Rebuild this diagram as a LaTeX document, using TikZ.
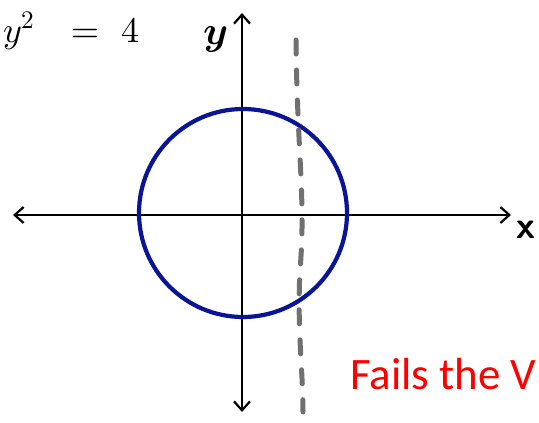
\documentclass[tikz,border=0pt]{standalone}
\usepackage{fontspec}
\usepackage{unicode-math}
\newfontfamily\calib{Carlito}
\usetikzlibrary{arrows.meta}
\begin{document}
\begin{tikzpicture}[x=1pt,y=-1pt,
  axis/.style={line width=2.2pt,-{Straight Barb[length=9pt,width=16pt,line width=2.2pt]},line cap=round},
  circ/.style={draw={rgb,255:red,10;green,20;blue,150},line width=4.2pt},
  vline/.style={draw={rgb,255:red,112;green,112;blue,112},line width=5pt,line cap=round,dash pattern=on 14pt off 16pt},
  lab/.style={inner sep=0pt},
  eqf/.style={lab,anchor=base,font=\fontsize{36}{38}\selectfont}]
\useasboundingbox (0,0) rectangle (539,423);
\clip (0,0) rectangle (539,423);
\coordinate (xl) at (13,215);
\coordinate (xr) at (511,215);
\coordinate (yt) at (242,13);
\coordinate (yb) at (242,412);
\coordinate (c) at (243,213);
\draw[axis] (c |- xl) -- (xl);
\draw[axis] (c |- xr) -- (xr);
\draw[axis] (c -| yt) -- (yt);
\draw[axis] (c -| yb) -- (yb);
\draw[circ] (c) circle[radius=104];
\coordinate (v1) at (296,40);
\coordinate (v2) at (303,412);
\draw[vline] (v1) .. controls (297,150) and (306,200) .. (300,270) .. controls (297,330) and (303,370) .. (v2);
\node[eqf,anchor=base west] (eqy) at (3,42) {$y^2$};
\node[eqf] (eqeq) at (86,42) {$=$};
\node[eqf] (eq4) at (130,42) {$4$};
\node[lab,anchor=base,font=\fontsize{40}{42}\selectfont] (ylab) at (216,44) {$\symbfit{y}$};
\node[lab,anchor=base,font=\fontsize{38}{40}\selectfont\sffamily\bfseries] (xlab) at (526,238) {x};
\node[lab,anchor=base west,text=red,font=\calib\fontsize{45}{47}\selectfont] (fails) at (350,389) {Fails the V};
\end{tikzpicture}
\end{document}
